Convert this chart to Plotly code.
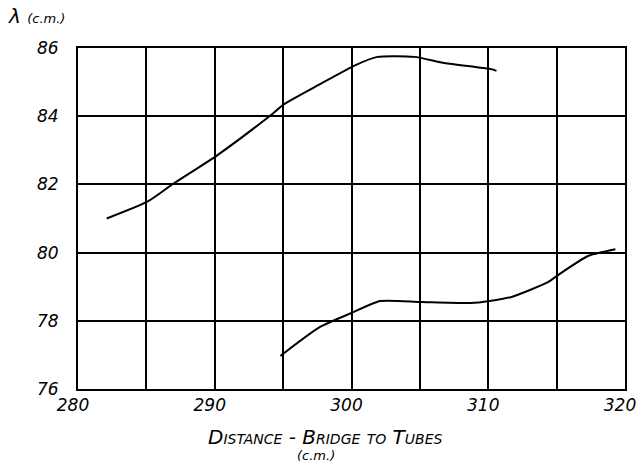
import plotly.graph_objects as go

# Upper curve
upper_x = [282.1, 285.1, 286.9, 290.2, 294.0, 295.1, 297.6, 300.3, 301.9, 304.6, 306.8, 310.2, 310.6]
upper_y = [81.0, 81.5, 82.0, 82.86, 84.0, 84.36, 84.92, 85.5, 85.74, 85.74, 85.56, 85.38, 85.33]

# Lower curve
lower_x = [294.8, 297.7, 300.0, 302.1, 305.1, 308.7, 310.1, 311.7, 314.4, 315.1, 317.3, 319.3]
lower_y = [76.97, 77.82, 78.23, 78.58, 78.55, 78.52, 78.58, 78.7, 79.14, 79.34, 79.9, 80.1]

x_ticks = [280, 290, 300, 310, 320]
y_ticks = [76, 78, 80, 82, 84, 86]

fig = go.Figure()
for xs, ys in [(upper_x, upper_y), (lower_x, lower_y)]:
    fig.add_trace(go.Scatter(x=xs, y=ys, mode="lines",
                             line=dict(color="black", width=2, shape="spline", smoothing=0.6),
                             showlegend=False, hoverinfo="skip"))

tickfont = dict(family="DejaVu Sans", size=17, style="italic", color="black")

fig.update_layout(
    width=638, height=467,
    margin=dict(l=78, r=13, t=48, b=78, autoexpand=False),
    paper_bgcolor="white", plot_bgcolor="white",
    font=dict(family="DejaVu Sans", color="black", size=15, style="italic"),
    xaxis=dict(range=[280, 320], tickvals=x_ticks, ticktext=[str(v) for v in x_ticks],
               showgrid=True, gridcolor="black", gridwidth=2,
               minor=dict(dtick=5, showgrid=True, gridcolor="black", gridwidth=2, tick0=280),
               showline=True, linecolor="black", linewidth=2, mirror=True,
               ticks="", zeroline=False, ticklabelshift=-5, automargin=False,
               tickfont=tickfont),
    yaxis=dict(range=[76, 86], tickvals=y_ticks, showgrid=True, gridcolor="black", gridwidth=2,
               showline=True, linecolor="black", linewidth=2, mirror=True,
               ticks="", zeroline=False, ticklabelstandoff=14, automargin=False,
               tickfont=tickfont),
    annotations=[
        dict(text="λ <span style='font-size:13px'>(c.m.)</span>", x=0, y=1,
             xref="paper", yref="paper", xanchor="left", yanchor="bottom",
             showarrow=False, font=dict(family="DejaVu Sans", size=20, style="italic", color="black"),
             xshift=-72, yshift=18),
        dict(text="Distance - Bridge to Tubes", x=0.4516, y=0, xref="paper", yref="paper",
             xanchor="center", yanchor="middle", showarrow=False, yshift=-48,
             font=dict(family="DejaVu Sans", size=20, style="italic", variant="small-caps", color="black")),
        dict(text="(c.m.)", x=0.435, y=0, xref="paper", yref="paper",
             xanchor="center", yanchor="middle", showarrow=False, yshift=-66,
             font=dict(family="DejaVu Sans", size=13, style="italic", color="black")),
    ],
)

fig.write_html("out.html", config={"displayModeBar": False},
               post_script="document.body.style.margin='0';document.body.style.overflow='hidden';")
